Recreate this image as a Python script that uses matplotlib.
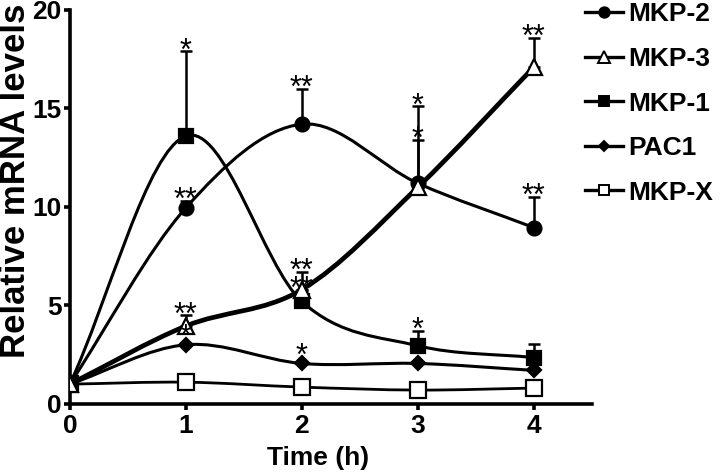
import numpy as np
import matplotlib
matplotlib.use("Agg")
import matplotlib.pyplot as plt
from matplotlib.path import Path
from matplotlib.patches import PathPatch
from matplotlib.lines import Line2D

plt.rcParams['font.family'] = ['Liberation Sans', 'DejaVu Sans']

time_h = [0, 1, 2, 3, 4]
series_names = ["MKP-2", "MKP-3", "MKP-1", "PAC1", "MKP-X"]
mkp2 = [1.0, 9.95, 14.2, 11.2, 8.95]
mkp2_err = [0, 0.35, 1.8, 3.9, 1.55]
mkp3 = [1.0, 3.95, 5.8, 11.0, 17.1]
mkp3_err = [0, 0.55, 0.9, 2.4, 1.5]
mkp1 = [1.0, 13.6, 5.2, 2.95, 2.35]
mkp1_err = [0, 4.3, 0.6, 0.75, 0.7]
pac1 = [1.0, 3.0, 2.05, 2.05, 1.7]
pac1_err = [0, 0, 0, 0, 0]
mkpx = [1.0, 1.1, 0.85, 0.7, 0.8]
mkpx_err = [0, 0, 0, 0, 0]

# significance marks: (series, time index, text)
stars = [
    ("MKP-1", 1, "*"), ("MKP-2", 1, "**"), ("MKP-2", 2, "**"),
    ("MKP-2", 3, "*"), ("MKP-3", 3, "*"), ("MKP-3", 4, "**"),
    ("MKP-2", 4, "**"), ("MKP-3", 1, "**"), ("PAC1", 1, "*"),
    ("MKP-3", 2, "**"), ("MKP-1", 2, "**"), ("PAC1", 2, "*"),
    ("MKP-1", 3, "*"),
]

data = {"MKP-2": (mkp2, mkp2_err), "MKP-3": (mkp3, mkp3_err),
        "MKP-1": (mkp1, mkp1_err), "PAC1": (pac1, pac1_err),
        "MKP-X": (mkpx, mkpx_err)}
styles = {
    "MKP-2": dict(marker='o', mfc='black', ms=10, lw=2.2, lms=7.5),
    "MKP-3": dict(marker='^', mfc='white', ms=11, lw=3.4, lms=8),
    "MKP-1": dict(marker='s', mfc='black', ms=10, lw=2.2, lms=7.5),
    "PAC1": dict(marker='D', mfc='black', ms=7, lw=2.2, lms=5.5),
    "MKP-X": dict(marker='s', mfc='white', ms=11, lw=2.0, lms=7.5),
}


def smooth_path(x, y):
    P = np.column_stack([x, y]).astype(float)
    n = len(P)
    ext = np.vstack([P[0] - (P[1] - P[0]), P, P[-1] + (P[-1] - P[-2])])
    verts = [P[0]]
    codes = [Path.MOVETO]
    for i in range(n - 1):
        p0, p1, p2, p3 = ext[i], ext[i + 1], ext[i + 2], ext[i + 3]
        c1 = p1 + (p2 - p0) / 6.0
        c2 = p2 - (p3 - p1) / 6.0
        verts += [c1, c2, p2]
        codes += [Path.CURVE4] * 3
    return Path(verts, codes)


fig = plt.figure(figsize=(7.2, 4.74), dpi=100)
ax = fig.add_axes([0.097, 0.148, 0.725, 0.831])

order = ["MKP-X", "PAC1", "MKP-1", "MKP-2", "MKP-3"]
for k, name in enumerate(order):
    y, e = data[name]
    st = styles[name]
    patch = PathPatch(smooth_path(time_h, y), fill=False, lw=st['lw'],
                      edgecolor='black', zorder=2 + k)
    ax.add_patch(patch)
    ax.errorbar(time_h, y, yerr=[np.zeros(len(e)), e], fmt='none',
                ecolor='black', elinewidth=1.8, capsize=4.5, capthick=1.8,
                zorder=2 + k)
    ax.plot(time_h, y, linestyle='none', marker=st['marker'],
            mfc=st['mfc'], mec='black', mew=1.6, ms=st['ms'], zorder=10 + k)

for name, i, txt in stars:
    y, e = data[name]
    dy = -6 if e[i] > 0 else -1
    ax.annotate(txt, (time_h[i], y[i] + e[i]), xytext=(0, dy),
                textcoords='offset points', ha='center', va='baseline',
                fontsize=22, fontweight='normal', zorder=20)

ax.set_xlim(0, 4.5)
ax.set_ylim(0, 20)
ax.set_xticks([0, 1, 2, 3, 4])
ax.set_yticks([0, 5, 10, 15, 20])
ax.spines['top'].set_visible(False)
ax.spines['right'].set_visible(False)
for s in ['left', 'bottom']:
    ax.spines[s].set_linewidth(2.6)
    ax.spines[s].set_clip_on(False)
ax.tick_params(axis='both', width=2.6, length=4, labelsize=19, direction='out')
ax.tick_params(axis='x', pad=3)
ax.tick_params(axis='y', pad=2)
for lab in ax.get_xticklabels() + ax.get_yticklabels():
    lab.set_fontweight('bold')
ax.set_xlabel("Time (h)", fontsize=19, fontweight='bold')
ax.set_ylabel("Relative mRNA levels", fontsize=25, fontweight='bold')
ax.xaxis.set_label_coords(0.476, -0.108)
ax.yaxis.set_label_coords(-0.072, 0.565)

handles = []
for name in series_names:
    st = styles[name]
    handles.append(Line2D([0], [0], color='black', lw=2.4, marker=st['marker'],
                          mfc=st['mfc'], mec='black', mew=1.4,
                          ms=st['lms']))
leg = fig.legend(handles, series_names, loc='upper left',
                 bbox_to_anchor=(585 / 720, 0.995), frameon=False,
                 prop=dict(size=19, weight='bold'), labelspacing=0.78,
                 handlelength=1.45, handletextpad=0.2, borderpad=0,
                 borderaxespad=0)

fig.savefig("out.png", dpi=100)
